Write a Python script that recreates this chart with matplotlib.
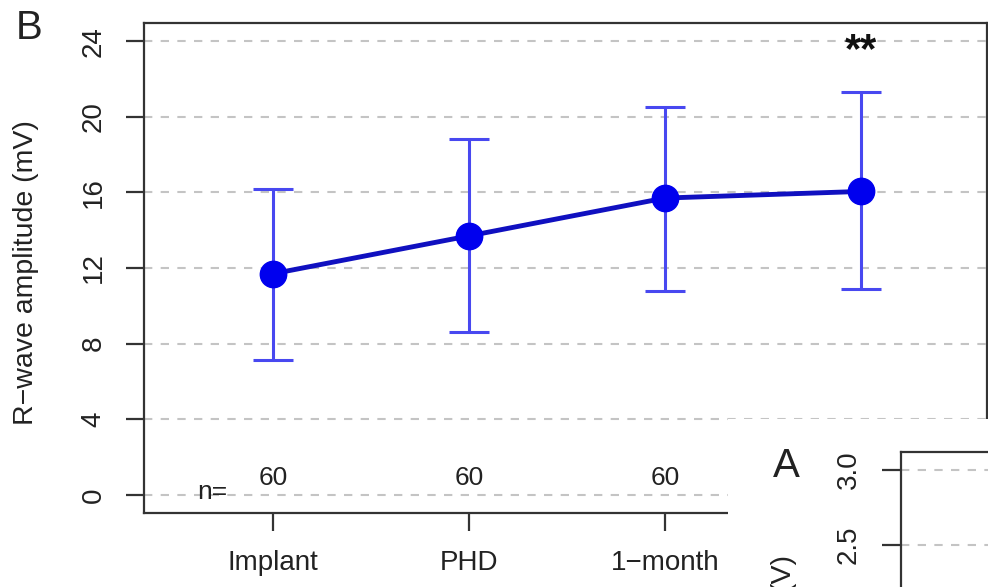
import matplotlib.pyplot as plt
from matplotlib.patches import Rectangle

plt.rcParams['font.family'] = ['Liberation Sans', 'DejaVu Sans']

# Data (4th time point is hidden under panel A)
timepoints = ['Implant', 'PHD', '1\u2212month', '']
means = [11.7, 13.7, 15.7, 16.05]
upper = [16.2, 18.8, 20.5, 21.3]
lower = [7.15, 8.6, 10.8, 10.9]
n_counts = [60, 60, 60]
y_ticks = [0, 4, 8, 12, 16, 20, 24]

x = list(range(1, len(means) + 1))
err_low = [m - lo for m, lo in zip(means, lower)]
err_high = [hi - m for m, hi in zip(means, upper)]

W, H = 988, 587
fig = plt.figure(figsize=(W / 100, H / 100), dpi=100)

def px_axes(left, top, right, bottom):
    return [left / W, (H - bottom) / H, (right - left) / W, (bottom - top) / H]

grid_kw = dict(color='#c4c4c4', lw=1.5, linestyle=(0, (4, 4)), zorder=0)
spine_col = '#333333'

# Panel B
ax = fig.add_axes(px_axes(144, 23, 987, 513))
for yv in y_ticks:
    ax.axhline(yv, **grid_kw)
ax.errorbar(x, means, yerr=[err_low, err_high], fmt='none', ecolor='#4848f0',
            elinewidth=2.2, capsize=14.5, capthick=2.2, zorder=2)
ax.plot(x, means, color='#1010c0', lw=3.5, zorder=3)
ax.plot(x, means, 'o', color='#0000ee', ms=19, zorder=4)

ax.set_xlim(0.34, 4.645)
ax.set_ylim(-0.96, 24.96)
ax.set_xticks(x)
ax.set_xticklabels(timepoints, fontsize=20, color='#222222')
ax.set_yticks(y_ticks)
ax.set_yticklabels([str(v) for v in y_ticks], fontsize=20, rotation=90,
                   va='center', color='#222222')
ax.tick_params(length=13, width=1.6, color=spine_col, pad=14)
for s in ax.spines.values():
    s.set_color(spine_col)
    s.set_linewidth(1.6)

ax.text(0.69, 0.16, 'n=', fontsize=19, ha='center', va='center', color='#222222')
for xi, nv in zip(x, n_counts):
    ax.text(xi, 0.9, str(nv), fontsize=19, ha='center', va='center', color='#222222')
ax.text(x[-1], 23.5, '**', fontsize=30, fontweight='bold', ha='center',
        va='center', color='#111111')

fig.text(26 / W, 1 - 273 / H, 'R\u2212wave amplitude (mV)', rotation=90,
         fontsize=20.5, ha='center', va='center', color='#222222')
fig.text(29 / W, 1 - 28 / H, 'B', fontsize=29, ha='center', va='center', color='#222222')

# Panel A overlapping the lower right corner
fig.patches.append(Rectangle((728 / W, 0), (W - 728) / W, (H - 419) / H,
                             transform=fig.transFigure, facecolor='white',
                             edgecolor='none', zorder=5))
axa = fig.add_axes(px_axes(901, 452, 1101, 752))
axa.set_zorder(10)
axa.patch.set_facecolor('white')
for yv in [2.5, 3.0]:
    axa.axhline(yv, **grid_kw)
axa.set_ylim(1.12, 3.12)
axa.set_xlim(0, 1)
axa.set_xticks([])
axa.set_yticks([2.5, 3.0])
axa.set_yticklabels(['2.5', '3.0'], fontsize=20, rotation=90, va='center', color='#222222')
axa.tick_params(length=14, width=1.6, color=spine_col, pad=14)
for s in axa.spines.values():
    s.set_color(spine_col)
    s.set_linewidth(1.6)
fig.text(786 / W, 1 - 466 / H, 'A', fontsize=29, ha='center', va='center',
         color='#222222', zorder=11)
fig.text(782 / W, 1 - 553 / H, '(V)', rotation=90, fontsize=20.5, ha='center',
         va='top', color='#222222', zorder=11)

fig.savefig('out.png', dpi=100)
